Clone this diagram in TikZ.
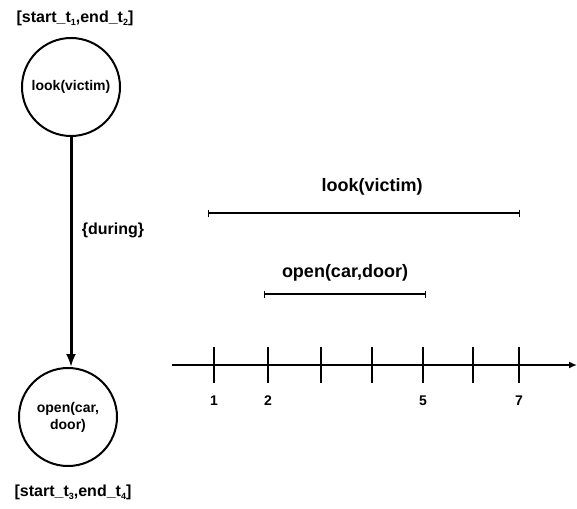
\documentclass[tikz,border=0pt]{standalone}
\usepackage{fontspec}
\setmainfont{Liberation Sans}
\usepackage{tikz}
\usetikzlibrary{arrows.meta, calc}

\newcommand{\lowidx}[1]{\raisebox{-3.5pt}{\fontsize{9}{10}\selectfont #1}}

\begin{document}
\begin{tikzpicture}[x=1pt,y=-1pt]
      \tikzset{event node/.style={draw=black, line width=2pt, circle,
          minimum size=98pt, inner sep=0pt, align=center,
          font=\fontsize{14}{17}\selectfont\bfseries},
        time label/.style={font=\fontsize{16}{18}\selectfont\bfseries},
        interval/.style={line width=2.2pt, {Bar[width=7pt,line width=1.2pt]}-{Bar[width=7pt,line width=1.2pt]}},
        tick label/.style={font=\fontsize{14}{16}\selectfont\bfseries}
      }
      \useasboundingbox (0,0) rectangle (577,508);
      % graph side
      \node [event node] (look) at (71,87) {look(victim)};
      \node [event node] (open) at (68,417) {open(car,\\door)};
      \node [time label] (T12) at (75,18) {[start\_t\lowidx{1},end\_t\lowidx{2}]};
      \node [time label] (T34) at (73,492) {[start\_t\lowidx{3},end\_t\lowidx{4}]};
      \draw [line width=3pt, -{Latex[length=13pt,width=10pt]}] (look.south) -- (look.south |- open.north);
      \node [time label] (rel) at (113,230) {\{during\}};
      % time line
      \coordinate (axisL) at (172,365);
      \coordinate (axisR) at (577,365);
      \draw [line width=2.4pt, -{Latex[length=8pt,width=7pt]}] (axisL) -- (axisR);
      \foreach \x/\lab in {214/1,268/2,321/,372/,423/5,473/,519/7} {
        \draw [line width=2pt] (\x,347) -- (\x,383);
        \node [tick label] (tick\x) at (\x,401) {\lab};
      }
      % intervals
      \coordinate (lookA) at (208,213);
      \coordinate (lookB) at (520,213);
      \coordinate (openA) at (264,294);
      \coordinate (openB) at (426,294);
      \draw [interval] (lookA) -- (lookB);
      \draw [interval] (openA) -- (openB);
      \node [time label, font=\fontsize{18}{20}\selectfont\bfseries] (lookL) at (372,187) {look(victim)};
      \node [time label, font=\fontsize{18}{20}\selectfont\bfseries] (openL) at (345,273) {open(car,door)};
\end{tikzpicture}
\end{document}
